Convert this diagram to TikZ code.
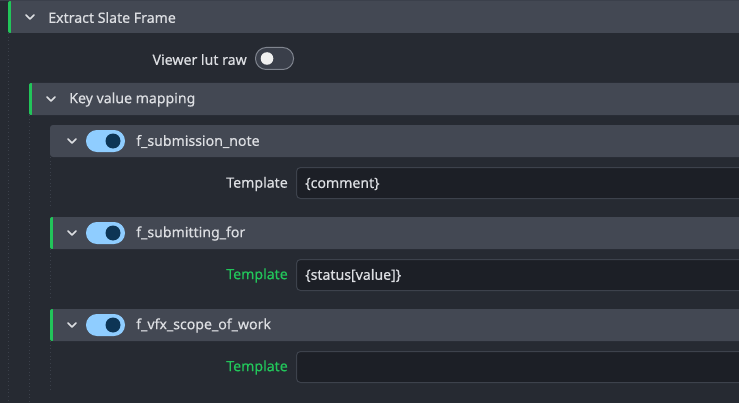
\documentclass[tikz,border=0pt]{standalone}
\usepackage{fontspec}
\setmainfont{Noto Sans}
\newfontfamily\uifont[FakeBold=0.45]{Noto Sans}
\definecolor{bg}{HTML}{262A32}
\definecolor{hdr}{HTML}{434853}
\definecolor{boxfill}{HTML}{1C1F26}
\definecolor{boxline}{HTML}{3D424C}
\definecolor{grn}{HTML}{22C55A}
\definecolor{tgblue}{HTML}{8FCDFF}
\definecolor{tgknob}{HTML}{0D3555}
\definecolor{tgoff}{HTML}{3A3F4A}
\definecolor{tgoffline}{HTML}{80858F}
\definecolor{txt}{HTML}{DCDEE2}
\definecolor{guide}{HTML}{3B404A}
\definecolor{topline}{HTML}{3A3F4A}
\begin{document}
\begin{tikzpicture}[x=0.75pt,y=-0.75pt,
  lbl/.style={text=txt,font=\uifont\fontsize{10.6}{12}\selectfont,inner sep=0pt,anchor=west},
  rlbl/.style={lbl,anchor=east},
  glbl/.style={rlbl,text=grn},
  hdrbar/.style={fill=hdr,rounded corners=2.2pt},
  gbar/.style={fill=grn,rounded corners=1.5pt},
  chev/.style={draw=txt,line width=1.3pt,line cap=round,line join=round},
  inbox/.style={fill=boxfill,draw=boxline,line width=0.75pt,rounded corners=3pt},
  guideline/.style={draw=guide,line width=0.75pt,dotted},
  tgon/.style={fill=tgblue,rounded corners=8.2pt},
  tgofff/.style={fill=tgoff,draw=tgoffline,line width=0.75pt,rounded corners=8pt}]
\useasboundingbox (0,0) rectangle (739,403);
\clip (0,0) rectangle (739,403);
\fill[bg] (0,0) rectangle (739,403);
\fill[topline] (0,0) rectangle (739,1);
% guides
\draw[guideline] (8.5,33) -- (8.5,403);
\draw[guideline] (29.5,115) -- (29.5,403);
\draw[guideline] (50.5,157) -- (50.5,207);
\draw[guideline] (50.5,249) -- (50.5,300);
\draw[guideline] (50.5,341) -- (50.5,392);
% header 1
\path[hdrbar] (8,1) rectangle (760,33);
\path[gbar] (8,1) rectangle (12,33);
\fill[hdr] (11,1) rectangle (14,33);
\draw[chev] (26,15) -- (30,19) -- (34,15);
\node[lbl] (h1) at (48,17.5) {Extract Slate Frame};
% viewer lut raw
\node[rlbl] (vl) at (247,59.5) {Viewer lut raw};
\path[tgofff] (255.5,47.5) rectangle (293.5,69.5);
\fill[white!94!black] (267,58.5) circle[radius=6.3];
% header 2
\path[hdrbar] (29,83) rectangle (760,115);
\path[gbar] (29,83) rectangle (33,115);
\fill[hdr] (32,83) rectangle (35,115);
\draw[chev] (47,97) -- (51,101) -- (55,97);
\node[lbl] (h2) at (69,99.5) {Key value mapping};
% header 3
\path[hdrbar] (50,125) rectangle (760,157);
\draw[chev] (68,139) -- (72,143) -- (76,139);
\path[tgon] (86,130) rectangle (125,152);
\fill[tgknob] (113,141) circle[radius=7.5];
\node[lbl] (h3) at (136,141.5) {f\_submission\_note};
\node[rlbl] (t1) at (288,184) {Template};
\path[inbox] (296.5,167.5) rectangle (760,198.5);
\node[lbl] (v1) at (305,184) {\{comment\}};
% header 4
\path[hdrbar] (50,217) rectangle (760,249);
\path[gbar] (50,217) rectangle (54,249);
\fill[hdr] (53,217) rectangle (56,249);
\draw[chev] (68,231) -- (72,235) -- (76,231);
\path[tgon] (86,222) rectangle (125,244);
\fill[tgknob] (113,233) circle[radius=7.5];
\node[lbl] (h4) at (136,233.5) {f\_submitting\_for};
\node[glbl] (t2) at (288,275.5) {Template};
\path[inbox] (296.5,259.5) rectangle (760,290.5);
\node[lbl] (v2) at (305,275.5) {\{status[value]\}};
% header 5
\path[hdrbar] (50,309) rectangle (760,341);
\path[gbar] (50,309) rectangle (54,341);
\fill[hdr] (53,309) rectangle (56,341);
\draw[chev] (68,323) -- (72,327) -- (76,323);
\path[tgon] (86,314) rectangle (125,336);
\fill[tgknob] (113,325) circle[radius=7.5];
\node[lbl] (h5) at (136,325.5) {f\_vfx\_scope\_of\_work};
\node[glbl] (t3) at (288,367.5) {Template};
\path[inbox] (296.5,351.5) rectangle (760,382.5);
\end{tikzpicture}
\end{document}
